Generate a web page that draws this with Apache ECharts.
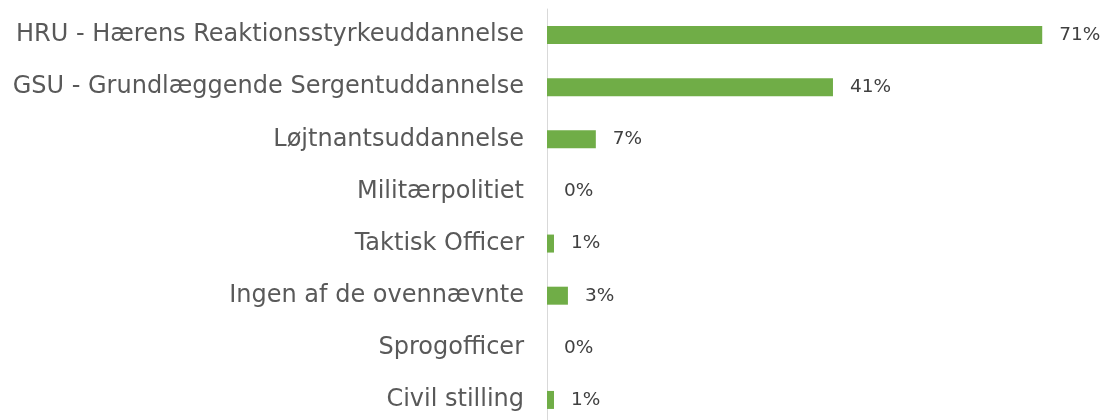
<!DOCTYPE html>
<html>
<head>
<meta charset="utf-8">
<script src="https://cdn.jsdelivr.net/npm/echarts@6/dist/echarts.min.js"></script>
<style>
  html, body { margin: 0; padding: 0; background: #fff; }
  #chart { width: 1108px; height: 420px; }
</style>
</head>
<body>
<div id="chart"></div>
<script>
// kategorier, oppefra og ned
var categories = [
    'HRU - Hærens Reaktionsstyrkeuddannelse',
    'GSU - Grundlæggende Sergentuddannelse',
    'Løjtnantsuddannelse',
    'Militærpolitiet',
    'Taktisk Officer',
    'Ingen af de ovennævnte',
    'Sprogofficer',
    'Civil stilling'
];
var values = [71, 41, 7, 0, 1, 3, 0, 1];

var chart = echarts.init(document.getElementById('chart'));
chart.setOption({
    animation: false,
    grid: { left: 547, top: 9, width: 558, height: 417, outerBoundsMode: 'none' },
    xAxis: {
        type: 'value',
        min: 0,
        max: 80,
        show: false
    },
    yAxis: {
        type: 'category',
        inverse: true,
        data: categories,
        axisLine: { show: true, lineStyle: { color: '#d9d9d9', width: 1 } },
        axisTick: { show: false },
        axisLabel: {
            margin: 23,
            padding: [5, 0, 0, 0],
            color: '#595959',
            fontSize: 24,
            fontFamily: 'DejaVu Sans'
        }
    },
    series: [{
        type: 'bar',
        data: values,
        barWidth: 18,
        itemStyle: { color: '#70AD47' },
        label: {
            show: true,
            position: 'right',
            distance: 17,
            formatter: '{c}%',
            color: '#404040',
            fontSize: 18.5,
            fontFamily: 'DejaVu Sans'
        }
    }]
});
</script>
</body>
</html>
